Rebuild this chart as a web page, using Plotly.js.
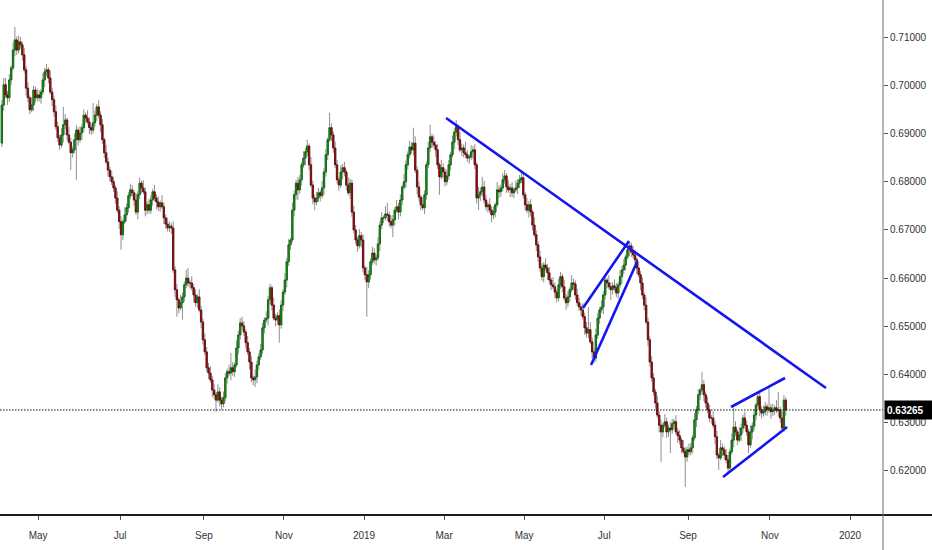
<!DOCTYPE html>
<html>
<head>
<meta charset="utf-8">
<script src="https://cdn.plot.ly/plotly-3.0.1.min.js"></script>
<style>
  html, body { margin: 0; padding: 0; background: #fff; }
  #chart { width: 932px; height: 550px; }
</style>
</head>
<body>
<div id="chart"></div>
<script>
// daily candles, first bar on this day, weekends skipped
var firstDay = '2018-04-03';

var opens = [
0.6880,0.6959,0.7001,0.6980,0.6974,0.7011,0.7036,0.7073,0.7094,0.7073,
0.7090,0.7084,0.7063,0.7032,0.6994,0.6974,0.6949,0.6959,0.6990,0.6974,
0.6980,0.6974,0.6986,0.7011,0.7028,0.7032,0.7015,0.6986,0.6970,0.6945,
0.6914,0.6891,0.6876,0.6897,0.6918,0.6928,0.6897,0.6882,0.6860,0.6866,
0.6887,0.6907,0.6887,0.6901,0.6912,0.6938,0.6932,0.6924,0.6912,0.6907,
0.6922,0.6938,0.6955,0.6938,0.6918,0.6887,0.6860,0.6841,0.6824,0.6810,
0.6800,0.6787,0.6766,0.6741,0.6717,0.6690,0.6717,0.6731,0.6746,0.6771,
0.6783,0.6777,0.6762,0.6737,0.6773,0.6797,0.6787,0.6779,0.6741,0.6752,
0.6741,0.6762,0.6779,0.6766,0.6758,0.6748,0.6756,0.6748,0.6725,0.6712,
0.6704,0.6708,0.6704,0.6617,0.6576,0.6555,0.6538,0.6549,0.6561,0.6586,
0.6600,0.6590,0.6590,0.6580,0.6565,0.6549,0.6561,0.6534,0.6509,0.6472,
0.6447,0.6414,0.6403,0.6389,0.6368,0.6358,0.6347,0.6364,0.6347,0.6339,
0.6352,0.6393,0.6406,0.6403,0.6414,0.6406,0.6420,0.6455,0.6482,0.6507,
0.6501,0.6488,0.6466,0.6447,0.6426,0.6393,0.6389,0.6395,0.6420,0.6437,
0.6451,0.6497,0.6513,0.6517,0.6555,0.6580,0.6544,0.6517,0.6513,0.6522,
0.6503,0.6544,0.6571,0.6596,0.6634,0.6669,0.6679,0.6741,0.6773,0.6797,
0.6783,0.6804,0.6835,0.6849,0.6862,0.6874,0.6835,0.6793,0.6766,0.6758,
0.6766,0.6777,0.6771,0.6787,0.6820,0.6856,0.6887,0.6912,0.6897,0.6870,
0.6835,0.6804,0.6793,0.6820,0.6829,0.6820,0.6793,0.6777,0.6797,0.6737,
0.6700,0.6679,0.6667,0.6688,0.6679,0.6621,0.6607,0.6592,0.6607,0.6634,
0.6652,0.6638,0.6642,0.6671,0.6710,0.6725,0.6725,0.6733,0.6731,0.6717,
0.6710,0.6721,0.6741,0.6748,0.6737,0.6762,0.6789,0.6800,0.6835,0.6856,
0.6872,0.6866,0.6880,0.6824,0.6789,0.6768,0.6752,0.6746,0.6773,0.6835,
0.6870,0.6893,0.6882,0.6876,0.6866,0.6835,0.6810,0.6829,0.6820,0.6800,
0.6812,0.6835,0.6856,0.6882,0.6903,0.6914,0.6887,0.6866,0.6870,0.6860,
0.6856,0.6849,0.6851,0.6862,0.6866,0.6835,0.6766,0.6773,0.6779,0.6789,
0.6762,0.6748,0.6752,0.6741,0.6731,0.6737,0.6752,0.6783,0.6779,0.6787,
0.6804,0.6812,0.6789,0.6783,0.6787,0.6777,0.6783,0.6787,0.6797,0.6804,
0.6808,0.6773,0.6752,0.6741,0.6752,0.6737,0.6710,0.6690,0.6669,0.6644,
0.6621,0.6603,0.6627,0.6621,0.6611,0.6596,0.6586,0.6582,0.6571,0.6559,
0.6586,0.6603,0.6582,0.6559,0.6549,0.6561,0.6576,0.6590,0.6588,0.6565,
0.6549,0.6540,0.6534,0.6520,0.6497,0.6486,0.6493,0.6468,0.6447,0.6434,
0.6482,0.6517,0.6534,0.6540,0.6565,0.6596,0.6590,0.6582,0.6576,0.6584,
0.6580,0.6569,0.6586,0.6603,0.6617,0.6627,0.6644,0.6659,0.6667,0.6654,
0.6648,0.6638,0.6621,0.6607,0.6590,0.6565,0.6544,0.6509,0.6472,0.6426,
0.6393,0.6364,0.6341,0.6316,0.6295,0.6281,0.6295,0.6302,0.6281,0.6289,
0.6285,0.6298,0.6302,0.6281,0.6273,0.6264,0.6248,0.6240,0.6229,0.6244,
0.6240,0.6248,0.6269,0.6306,0.6327,0.6358,0.6368,0.6379,0.6358,0.6341,
0.6327,0.6310,0.6310,0.6295,0.6271,0.6233,0.6227,0.6248,0.6244,0.6233,
0.6223,0.6206,0.6240,0.6264,0.6291,0.6281,0.6264,0.6275,0.6289,0.6310,
0.6295,0.6281,0.6254,0.6281,0.6293,0.6316,0.6337,0.6354,0.6327,0.6320,
0.6323,0.6333,0.6327,0.6331,0.6323,0.6327,0.6331,0.6325,0.6327,0.6310,
0.6289,0.6347
];

var highs = [
0.6969,0.7015,0.7015,0.6988,0.7023,0.7041,0.7089,0.7121,0.7101,0.7103,
0.7100,0.7090,0.7077,0.7040,0.7006,0.6979,0.6975,0.6999,0.6997,0.6993,
0.6990,0.6992,0.7025,0.7036,0.7044,0.7037,0.7031,0.6995,0.6977,0.6958,
0.6924,0.6897,0.6911,0.6955,0.6940,0.6933,0.6913,0.6891,0.6873,0.6900,
0.6917,0.6913,0.6915,0.6920,0.6950,0.6943,0.6948,0.6933,0.6919,0.6963,
0.6948,0.6961,0.6969,0.6946,0.6930,0.6892,0.6876,0.6850,0.6831,0.6823,
0.6810,0.6793,0.6780,0.6749,0.6729,0.6722,0.6747,0.6755,0.6778,0.6796,
0.6793,0.6783,0.6776,0.6781,0.6809,0.6802,0.6803,0.6788,0.6759,0.6765,
0.6772,0.6785,0.6793,0.6774,0.6770,0.6761,0.6772,0.6757,0.6732,0.6725,
0.6718,0.6714,0.6718,0.6625,0.6588,0.6560,0.6565,0.6570,0.6593,0.6617,
0.6621,0.6596,0.6604,0.6588,0.6577,0.6566,0.6577,0.6543,0.6516,0.6485,
0.6457,0.6424,0.6417,0.6397,0.6380,0.6363,0.6380,0.6373,0.6354,0.6365,
0.6403,0.6412,0.6420,0.6445,0.6426,0.6425,0.6471,0.6491,0.6517,0.6520,
0.6511,0.6494,0.6480,0.6455,0.6438,0.6398,0.6411,0.6429,0.6444,0.6464,
0.6507,0.6519,0.6531,0.6563,0.6588,0.6585,0.6560,0.6526,0.6529,0.6535,
0.6554,0.6577,0.6610,0.6642,0.6681,0.6684,0.6757,0.6782,0.6804,0.6810,
0.6814,0.6841,0.6863,0.6870,0.6887,0.6879,0.6851,0.6802,0.6773,0.6779,
0.6787,0.6783,0.6801,0.6828,0.6868,0.6892,0.6943,0.6921,0.6904,0.6883,
0.6845,0.6810,0.6834,0.6837,0.6841,0.6825,0.6809,0.6806,0.6804,0.6750,
0.6710,0.6685,0.6702,0.6696,0.6691,0.6626,0.6623,0.6616,0.6641,0.6665,
0.6662,0.6648,0.6685,0.6718,0.6737,0.6730,0.6749,0.6756,0.6738,0.6730,
0.6731,0.6747,0.6762,0.6756,0.6774,0.6794,0.6816,0.6844,0.6863,0.6885,
0.6882,0.6912,0.6894,0.6832,0.6801,0.6773,0.6768,0.6782,0.6842,0.6883,
0.6918,0.6899,0.6896,0.6884,0.6878,0.6840,0.6845,0.6838,0.6827,0.6825,
0.6845,0.6862,0.6896,0.6911,0.6928,0.6919,0.6903,0.6879,0.6877,0.6883,
0.6866,0.6857,0.6876,0.6874,0.6878,0.6840,0.6789,0.6788,0.6810,0.6802,
0.6772,0.6758,0.6766,0.6749,0.6749,0.6757,0.6799,0.6792,0.6794,0.6817,
0.6824,0.6818,0.6803,0.6795,0.6799,0.6788,0.6803,0.6806,0.6814,0.6821,
0.6818,0.6779,0.6766,0.6760,0.6764,0.6742,0.6726,0.6699,0.6676,0.6657,
0.6631,0.6633,0.6641,0.6629,0.6623,0.6601,0.6602,0.6591,0.6578,0.6599,
0.6613,0.6609,0.6596,0.6567,0.6573,0.6581,0.6606,0.6599,0.6595,0.6578,
0.6559,0.6546,0.6548,0.6528,0.6509,0.6540,0.6509,0.6477,0.6454,0.6495,
0.6527,0.6540,0.6554,0.6573,0.6608,0.6601,0.6606,0.6591,0.6591,0.6597,
0.6590,0.6592,0.6617,0.6625,0.6639,0.6649,0.6670,0.6675,0.6674,0.6667,
0.6658,0.6644,0.6635,0.6615,0.6602,0.6570,0.6560,0.6518,0.6479,0.6439,
0.6403,0.6370,0.6355,0.6324,0.6307,0.6300,0.6318,0.6311,0.6296,0.6302,
0.6308,0.6308,0.6316,0.6289,0.6285,0.6269,0.6264,0.6249,0.6251,0.6257,
0.6258,0.6275,0.6320,0.6335,0.6370,0.6373,0.6405,0.6388,0.6365,0.6354,
0.6337,0.6316,0.6324,0.6303,0.6283,0.6238,0.6264,0.6257,0.6251,0.6246,
0.6233,0.6246,0.6278,0.6331,0.6303,0.6286,0.6291,0.6298,0.6317,0.6323,
0.6305,0.6287,0.6295,0.6301,0.6328,0.6342,0.6362,0.6363,0.6334,0.6336,
0.6343,0.6339,0.6374,0.6339,0.6339,0.6336,0.6347,0.6364,0.6334,0.6323,
0.6357,0.6353
];

var lows = [
0.6872,0.6947,0.6974,0.6959,0.6965,0.7000,0.7031,0.7060,0.7063,0.7066,
0.7076,0.7051,0.7026,0.6979,0.6965,0.6940,0.6944,0.6946,0.6964,0.6967,
0.6966,0.6962,0.6980,0.6996,0.7019,0.7004,0.6981,0.6957,0.6935,0.6907,
0.6883,0.6866,0.6870,0.6882,0.6909,0.6886,0.6877,0.6824,0.6850,0.6859,
0.6804,0.6875,0.6881,0.6886,0.6903,0.6921,0.6919,0.6899,0.6897,0.6900,
0.6914,0.6926,0.6932,0.6903,0.6878,0.6849,0.6836,0.6811,0.6800,0.6793,
0.6779,0.6754,0.6735,0.6702,0.6659,0.6679,0.6712,0.6718,0.6736,0.6764,
0.6769,0.6750,0.6731,0.6722,0.6764,0.6776,0.6774,0.6728,0.6731,0.6734,
0.6733,0.6750,0.6760,0.6743,0.6739,0.6737,0.6743,0.6712,0.6702,0.6697,
0.6696,0.6692,0.6611,0.6561,0.6520,0.6527,0.6533,0.6514,0.6551,0.6579,
0.6582,0.6578,0.6574,0.6550,0.6540,0.6538,0.6529,0.6496,0.6462,0.6440,
0.6406,0.6391,0.6383,0.6353,0.6349,0.6323,0.6342,0.6334,0.6327,0.6332,
0.6344,0.6381,0.6397,0.6388,0.6397,0.6395,0.6415,0.6442,0.6472,0.6494,
0.6480,0.6454,0.6441,0.6411,0.6384,0.6378,0.6374,0.6382,0.6410,0.6430,
0.6443,0.6485,0.6507,0.6502,0.6546,0.6533,0.6512,0.6500,0.6503,0.6466,
0.6495,0.6532,0.6565,0.6581,0.6625,0.6658,0.6674,0.6728,0.6763,0.6762,
0.6775,0.6792,0.6829,0.6834,0.6853,0.6824,0.6788,0.6753,0.6741,0.6751,
0.6758,0.6759,0.6765,0.6772,0.6811,0.6845,0.6882,0.6884,0.6860,0.6828,
0.6796,0.6781,0.6787,0.6805,0.6811,0.6782,0.6772,0.6764,0.6727,0.6693,
0.6671,0.6655,0.6661,0.6664,0.6612,0.6596,0.6520,0.6579,0.6597,0.6627,
0.6630,0.6626,0.6636,0.6656,0.6701,0.6714,0.6720,0.6718,0.6707,0.6703,
0.6685,0.6709,0.6735,0.6722,0.6728,0.6751,0.6784,0.6787,0.6825,0.6849,
0.6858,0.6854,0.6818,0.6774,0.6759,0.6741,0.6741,0.6733,0.6763,0.6828,
0.6862,0.6870,0.6870,0.6851,0.6826,0.6773,0.6805,0.6807,0.6790,0.6793,
0.6804,0.6823,0.6850,0.6867,0.6894,0.6876,0.6861,0.6853,0.6850,0.6849,
0.6841,0.6837,0.6845,0.6847,0.6826,0.6755,0.6741,0.6760,0.6769,0.6755,
0.6740,0.6736,0.6735,0.6716,0.6722,0.6726,0.6747,0.6766,0.6769,0.6780,
0.6796,0.6777,0.6777,0.6768,0.6768,0.6766,0.6778,0.6774,0.6787,0.6797,
0.6765,0.6740,0.6735,0.6726,0.6728,0.6699,0.6685,0.6656,0.6634,0.6614,
0.6595,0.6591,0.6615,0.6596,0.6587,0.6575,0.6577,0.6558,0.6549,0.6552,
0.6578,0.6570,0.6553,0.6534,0.6540,0.6550,0.6571,0.6575,0.6555,0.6542,
0.6532,0.6522,0.6514,0.6482,0.6477,0.6475,0.6463,0.6434,0.6424,0.6427,
0.6474,0.6505,0.6528,0.6525,0.6556,0.6579,0.6577,0.6555,0.6566,0.6573,
0.6561,0.6557,0.6580,0.6588,0.6608,0.6616,0.6639,0.6646,0.6644,0.6641,
0.6630,0.6609,0.6601,0.6575,0.6556,0.6533,0.6504,0.6459,0.6416,0.6386,
0.6356,0.6329,0.6310,0.6280,0.6219,0.6270,0.6290,0.6268,0.6271,0.6237,
0.6277,0.6286,0.6275,0.6258,0.6255,0.6237,0.6235,0.6167,0.6219,0.6233,
0.6232,0.6236,0.6263,0.6291,0.6318,0.6347,0.6363,0.6345,0.6331,0.6320,
0.6302,0.6298,0.6289,0.6256,0.6224,0.6202,0.6222,0.6231,0.6223,0.6216,
0.6198,0.6200,0.6234,0.6249,0.6272,0.6253,0.6259,0.6262,0.6279,0.6288,
0.6273,0.6237,0.6248,0.6266,0.6284,0.6305,0.6332,0.6314,0.6310,0.6313,
0.6315,0.6315,0.6321,0.6308,0.6314,0.6316,0.6320,0.6312,0.6300,0.6282,
0.6281,0.6314
];

var closes = [
0.6959,0.7001,0.6980,0.6974,0.7011,0.7036,0.7073,0.7094,0.7073,0.7090,
0.7084,0.7063,0.7032,0.6994,0.6974,0.6949,0.6959,0.6990,0.6974,0.6980,
0.6974,0.6986,0.7011,0.7028,0.7032,0.7015,0.6986,0.6970,0.6945,0.6914,
0.6891,0.6876,0.6897,0.6918,0.6928,0.6897,0.6882,0.6860,0.6866,0.6887,
0.6907,0.6887,0.6901,0.6912,0.6938,0.6932,0.6924,0.6912,0.6907,0.6922,
0.6938,0.6955,0.6938,0.6918,0.6887,0.6860,0.6841,0.6824,0.6810,0.6800,
0.6787,0.6766,0.6741,0.6717,0.6690,0.6717,0.6731,0.6746,0.6771,0.6783,
0.6777,0.6762,0.6737,0.6773,0.6797,0.6787,0.6779,0.6741,0.6752,0.6741,
0.6762,0.6779,0.6766,0.6758,0.6748,0.6756,0.6748,0.6725,0.6712,0.6704,
0.6708,0.6704,0.6617,0.6576,0.6555,0.6538,0.6549,0.6561,0.6586,0.6600,
0.6590,0.6590,0.6580,0.6565,0.6549,0.6561,0.6534,0.6509,0.6472,0.6447,
0.6414,0.6403,0.6389,0.6368,0.6358,0.6347,0.6364,0.6347,0.6339,0.6352,
0.6393,0.6406,0.6403,0.6414,0.6406,0.6420,0.6455,0.6482,0.6507,0.6501,
0.6488,0.6466,0.6447,0.6426,0.6393,0.6389,0.6395,0.6420,0.6437,0.6451,
0.6497,0.6513,0.6517,0.6555,0.6580,0.6544,0.6517,0.6513,0.6522,0.6503,
0.6544,0.6571,0.6596,0.6634,0.6669,0.6679,0.6741,0.6773,0.6797,0.6783,
0.6804,0.6835,0.6849,0.6862,0.6874,0.6835,0.6793,0.6766,0.6758,0.6766,
0.6777,0.6771,0.6787,0.6820,0.6856,0.6887,0.6912,0.6897,0.6870,0.6835,
0.6804,0.6793,0.6820,0.6829,0.6820,0.6793,0.6777,0.6797,0.6737,0.6700,
0.6679,0.6667,0.6688,0.6679,0.6621,0.6607,0.6592,0.6607,0.6634,0.6652,
0.6638,0.6642,0.6671,0.6710,0.6725,0.6725,0.6733,0.6731,0.6717,0.6710,
0.6721,0.6741,0.6748,0.6737,0.6762,0.6789,0.6800,0.6835,0.6856,0.6872,
0.6866,0.6880,0.6824,0.6789,0.6768,0.6752,0.6746,0.6773,0.6835,0.6870,
0.6893,0.6882,0.6876,0.6866,0.6835,0.6810,0.6829,0.6820,0.6800,0.6812,
0.6835,0.6856,0.6882,0.6903,0.6914,0.6887,0.6866,0.6870,0.6860,0.6856,
0.6849,0.6851,0.6862,0.6866,0.6835,0.6766,0.6773,0.6779,0.6789,0.6762,
0.6748,0.6752,0.6741,0.6731,0.6737,0.6752,0.6783,0.6779,0.6787,0.6804,
0.6812,0.6789,0.6783,0.6787,0.6777,0.6783,0.6787,0.6797,0.6804,0.6808,
0.6773,0.6752,0.6741,0.6752,0.6737,0.6710,0.6690,0.6669,0.6644,0.6621,
0.6603,0.6627,0.6621,0.6611,0.6596,0.6586,0.6582,0.6571,0.6559,0.6586,
0.6603,0.6582,0.6559,0.6549,0.6561,0.6576,0.6590,0.6588,0.6565,0.6549,
0.6540,0.6534,0.6520,0.6497,0.6486,0.6493,0.6468,0.6447,0.6434,0.6482,
0.6517,0.6534,0.6540,0.6565,0.6596,0.6590,0.6582,0.6576,0.6584,0.6580,
0.6569,0.6586,0.6603,0.6617,0.6627,0.6644,0.6659,0.6667,0.6654,0.6648,
0.6638,0.6621,0.6607,0.6590,0.6565,0.6544,0.6509,0.6472,0.6426,0.6393,
0.6364,0.6341,0.6316,0.6295,0.6281,0.6295,0.6302,0.6281,0.6289,0.6285,
0.6298,0.6302,0.6281,0.6273,0.6264,0.6248,0.6240,0.6229,0.6244,0.6240,
0.6248,0.6269,0.6306,0.6327,0.6358,0.6368,0.6379,0.6358,0.6341,0.6327,
0.6310,0.6310,0.6295,0.6271,0.6233,0.6227,0.6248,0.6244,0.6233,0.6223,
0.6206,0.6240,0.6264,0.6291,0.6281,0.6264,0.6275,0.6289,0.6310,0.6295,
0.6281,0.6254,0.6281,0.6293,0.6316,0.6337,0.6354,0.6327,0.6320,0.6323,
0.6333,0.6327,0.6331,0.6323,0.6327,0.6331,0.6325,0.6327,0.6310,0.6289,
0.6347,0.63265
];

var lastPrice = 0.63265;

var tickDates = ['2018-05-01', '2018-07-02', '2018-09-03', '2018-11-01', '2019-01-01',
                 '2019-03-01', '2019-05-01', '2019-07-01', '2019-09-02', '2019-11-01', '2020-01-01'];
var tickNames = ['May', 'Jul', 'Sep', 'Nov', '2019', 'Mar', 'May', 'Jul', 'Sep', 'Nov', '2020'];

// hand drawn lines: [start date, start price, end date, end price]
var trendLines = [
    ['2019-03-04 01:00', 0.69321, '2019-12-13 02:00', 0.63721],
    ['2019-06-13 14:00', 0.65380, '2019-07-18 07:00', 0.66770],
    ['2019-06-19 22:00', 0.64198, '2019-07-24 14:00', 0.66334],
    ['2019-10-03 02:00', 0.63327, '2019-11-13 02:00', 0.63928],
    ['2019-09-26 19:00', 0.61875, '2019-11-14 05:00', 0.62912]
];

var greenBody = '#00b800';
var redBody = '#cc0000';
var greenEdge = '#0b5e0b';
var redEdge = '#5e0b0b';
var wickGray = '#8f8f8f';
var lineBlue = '#1414f2';

function tradingDays(start, n) {
    var out = [];
    var d = new Date(start + 'T00:00:00Z');
    while (out.length < n) {
        var wd = d.getUTCDay();
        if (wd != 0 && wd != 6) {
            out.push(d.toISOString().slice(0, 10) + ' 12:00');
        }
        d.setUTCDate(d.getUTCDate() + 1);
    }
    return out;
}

var days = tradingDays(firstDay, closes.length);
var bodyTop = [];
var bodyBottom = [];
for (var i = 0; i < closes.length; i++) {
    bodyTop.push(Math.max(opens[i], closes[i]));
    bodyBottom.push(Math.min(opens[i], closes[i]));
}

var wicks = {
    type: 'candlestick',
    x: days, open: opens, high: highs, low: lows, close: closes,
    whiskerwidth: 0,
    increasing: {line: {color: wickGray, width: 1}, fillcolor: wickGray},
    decreasing: {line: {color: wickGray, width: 1}, fillcolor: wickGray},
    hoverinfo: 'skip',
    showlegend: false
};

var bodies = {
    type: 'candlestick',
    x: days, open: opens, high: bodyTop, low: bodyBottom, close: closes,
    whiskerwidth: 0,
    increasing: {line: {color: greenEdge, width: 0.8}, fillcolor: greenBody},
    decreasing: {line: {color: redEdge, width: 0.8}, fillcolor: redBody},
    hoverinfo: 'skip',
    showlegend: false
};

var shapes = [];
for (var k = 0; k < trendLines.length; k++) {
    var t = trendLines[k];
    shapes.push({
        type: 'line', xref: 'x', yref: 'y',
        x0: t[0], y0: t[1], x1: t[2], y1: t[3],
        line: {color: lineBlue, width: 2.6}
    });
}
// last price dotted line
shapes.push({
    type: 'line', xref: 'paper', yref: 'y',
    x0: 0, x1: 1, y0: lastPrice, y1: lastPrice,
    line: {color: '#111', width: 1, dash: '1.5px,1.5px'}
});
// axis frame lines, running past the plot area like the original
shapes.push({
    type: 'line', xref: 'paper', yref: 'paper',
    x0: 0, x1: 932 / 883, y0: 0, y1: 0,
    line: {color: '#1e1e1e', width: 2}
});
shapes.push({
    type: 'line', xref: 'paper', yref: 'paper',
    x0: 1, x1: 1, y0: -35 / 515, y1: 1,
    line: {color: '#6a6a6a', width: 1}
});

var layout = {
    width: 932,
    height: 550,
    margin: {l: 0, r: 49, t: 0, b: 35},
    paper_bgcolor: '#ffffff',
    plot_bgcolor: '#ffffff',
    showlegend: false,
    boxgap: 0,
    xaxis: {
        type: 'date',
        range: ['2018-04-02 12:00', '2020-01-24 17:00'],
        rangebreaks: [{bounds: ['sat', 'mon']}],
        rangeslider: {visible: false},
        tickvals: tickDates,
        ticktext: tickNames,
        ticks: 'outside',
        ticklen: 4,
        tickcolor: '#555',
        ticklabelstandoff: 7,
        tickfont: {family: 'Liberation Sans, Arial, sans-serif', size: 10, color: '#333'},
        showgrid: false,
        zeroline: false,
        showline: false,
        fixedrange: true
    },
    yaxis: {
        side: 'right',
        range: [0.61087, 0.71768],
        tick0: 0.62,
        dtick: 0.01,
        tickformat: '.5f',
        ticks: 'outside',
        ticklen: 4,
        tickcolor: '#555',
        tickfont: {family: 'Liberation Sans, Arial, sans-serif', size: 10, color: '#333'},
        showgrid: false,
        zeroline: false,
        showline: false,
        fixedrange: true
    },
    shapes: shapes,
    annotations: [{
        xref: 'paper', yref: 'y',
        x: 1, y: lastPrice,
        xanchor: 'left', yanchor: 'middle',
        xshift: 1,
        text: '<b>' + lastPrice.toFixed(5) + '</b>',
        showarrow: false,
        bgcolor: '#000',
        width: 44,
        height: 14,
        borderpad: 2,
        align: 'left',
        font: {family: 'Liberation Sans, Arial, sans-serif', size: 10, color: '#fff'}
    }]
};

Plotly.newPlot('chart', [wicks, bodies], layout, {staticPlot: true, displayModeBar: false});
</script>
</body>
</html>
